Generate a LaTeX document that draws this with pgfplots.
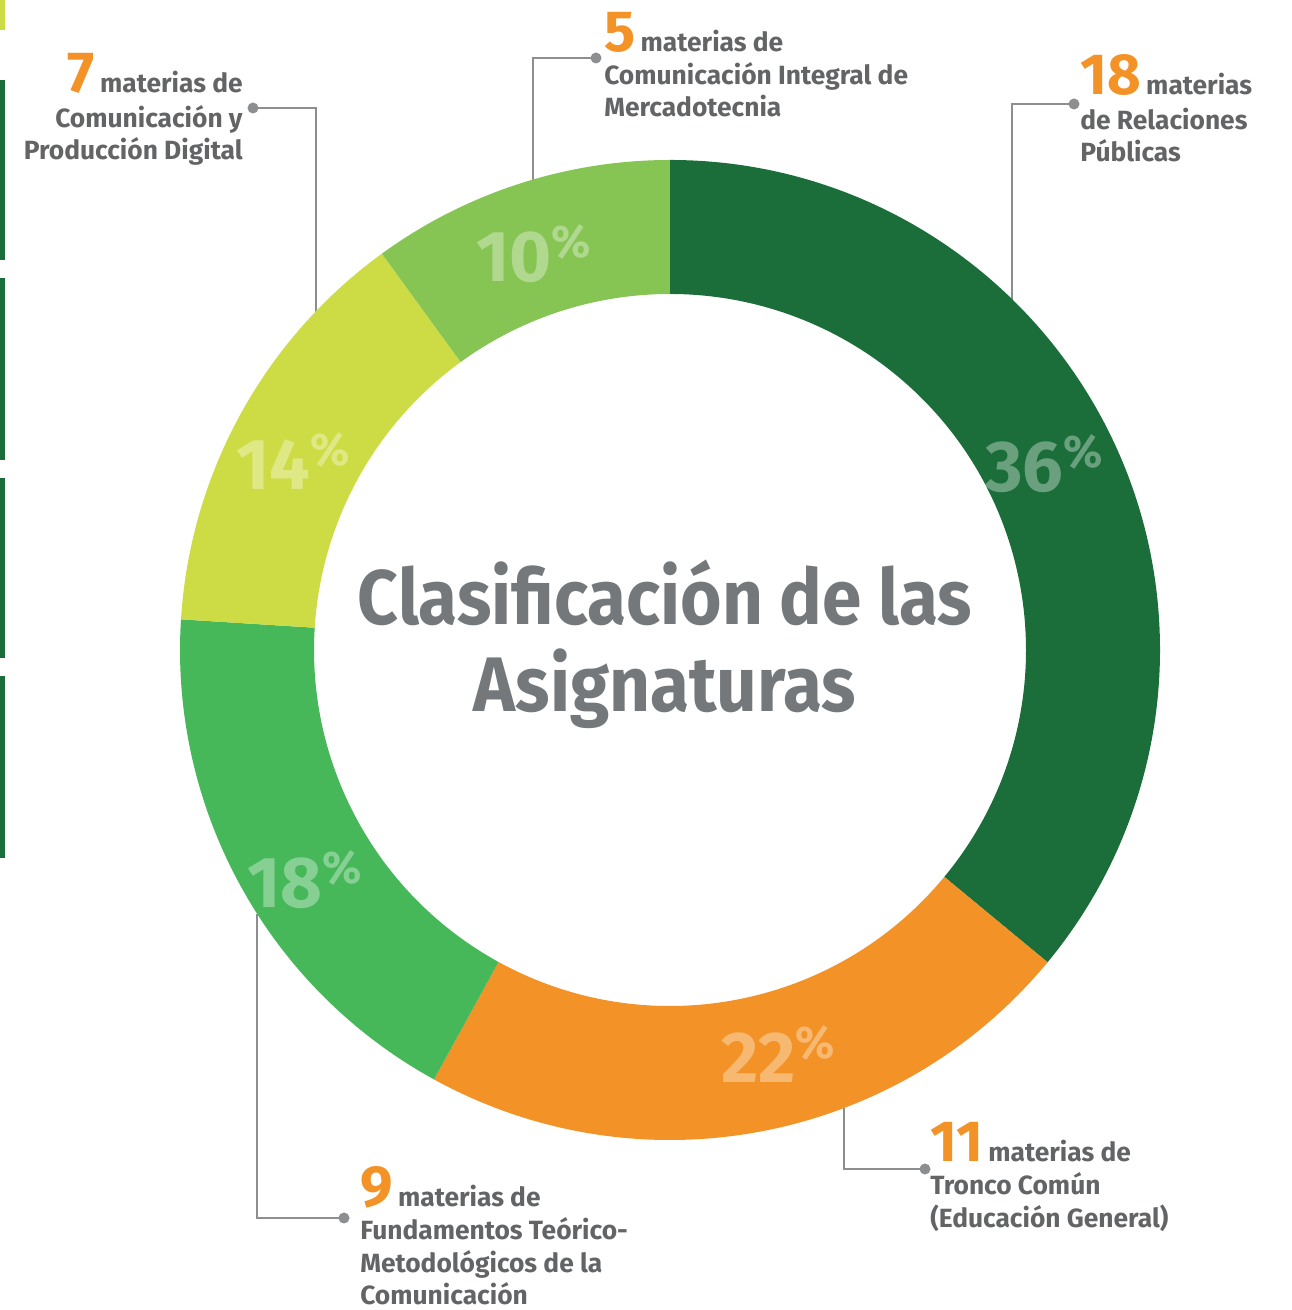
\documentclass[border=0pt]{standalone}
\usepackage{pgfplots}
\pgfplotsset{compat=1.18}
\usepackage{pgfplotstable}
\usepackage{fontspec}
\setmainfont{Fira Sans}
\newfontfamily\ttlfont{Fira Sans}[FakeStretch=0.92]
\definecolor{cDark}{HTML}{1B6E3A}
\definecolor{cOrange}{HTML}{F39226}
\definecolor{cGreen}{HTML}{47B85A}
\definecolor{cYellow}{HTML}{CDDC45}
\definecolor{cLight}{HTML}{86C454}
\definecolor{txt}{HTML}{636466}
\definecolor{ttl}{HTML}{75787B}
\definecolor{lead}{HTML}{8C8E90}

\pgfplotstableread{
value color
18 cDark
11 cOrange
9 cGreen
7 cYellow
5 cLight
}\datatable

\newcommand\lab{\fontsize{15}{18.7}\selectfont\bfseries\color{txt}}
\newcommand\bignum[1]{{\fontsize{33}{33}\selectfont\bfseries\color{cOrange}#1}\hspace{3pt}}
\newcommand\pct[1]{\fontsize{41}{41}\selectfont\bfseries #1\raisebox{14pt}{\fontsize{26}{26}\selectfont\%}}

\begin{document}
\begin{tikzpicture}
\begin{axis}[x=0.2mm,y=0.2mm,xmin=0,xmax=1291,ymin=0,ymax=1310,
  scale only axis,hide axis,clip=false]
\path (axis cs:0,0) rectangle (axis cs:1291,1310);
% left page-edge bars
\fill[cYellow] (axis cs:0,1280) rectangle (axis cs:5,1310);
\fill[cDark] (axis cs:0,1050) rectangle (axis cs:5,1230);
\fill[cDark] (axis cs:0,850) rectangle (axis cs:5,1032);
\fill[cDark] (axis cs:0,652) rectangle (axis cs:5,832);
\fill[cDark] (axis cs:0,452) rectangle (axis cs:5,634);
% leader lines
\begin{scope}[lead,line width=0.55mm]
\draw (axis cs:1012,1010) -- (axis cs:1012,1206) -- (axis cs:1074,1206);
\fill (axis cs:1074,1206) circle[radius=1.1mm];
\draw (axis cs:533,1128) -- (axis cs:533,1252) -- (axis cs:596,1252);
\fill (axis cs:596,1252) circle[radius=1.1mm];
\draw (axis cs:316,998) -- (axis cs:316,1202) -- (axis cs:253,1202);
\fill (axis cs:253,1202) circle[radius=1.1mm];
\draw (axis cs:844,202) -- (axis cs:844,141) -- (axis cs:925,141);
\fill (axis cs:925,141) circle[radius=1.1mm];
\draw (axis cs:257,396) -- (axis cs:257,92) -- (axis cs:344,92);
\fill (axis cs:344,92) circle[radius=1.1mm];
\end{scope}
% donut
\pgfplotstablegetrowsof{\datatable}
\pgfmathtruncatemacro\nrows{\pgfplotsretval-1}
\def\s{90}
\pgfplotsforeachungrouped \i in {0,...,\nrows}{%
  \pgfplotstablegetelem{\i}{value}\of\datatable \let\v\pgfplotsretval
  \pgfplotstablegetelem{\i}{color}\of\datatable \let\c\pgfplotsretval
  \pgfmathsetmacro\e{\s-\v/50*360}%
  \edef\temp{\noexpand\fill[\c] (axis cs:670,660) ++(\s:98mm) arc[start angle=\s,end angle=\e,radius=98mm] -- ++(\e:-26.8mm) arc[start angle=\e,end angle=\s,radius=71.2mm] -- cycle;}%
  \temp
  \global\let\s\e
}
% percentage labels
\begin{scope}[text=white,text opacity=0.35,inner sep=0pt]
\node[anchor=base west] at (axis cs:985,818) {\pct{36}};
\node[anchor=base west] at (axis cs:721,227) {\pct{22}};
\node[anchor=base west] at (axis cs:247,402) {\pct{18}};
\node[anchor=base west] at (axis cs:236,820) {\pct{14}};
\node[anchor=base west] at (axis cs:476,1028) {\pct{10}};
\end{scope}
% title
\begin{scope}[text=ttl,inner sep=0pt]
\node[anchor=base] at (axis cs:665,685) {\fontsize{44}{44}\selectfont\ttlfont\bfseries Clasificación de las};
\node[anchor=base] at (axis cs:665,598) {\fontsize{44}{44}\selectfont\ttlfont\bfseries Asignaturas};
\end{scope}
% category labels
\begin{scope}[inner sep=0pt]
\node[anchor=base west] at (axis cs:1080,1215) {\bignum{18}\lab materias};
\node[anchor=base west] at (axis cs:1080,1180) {\lab de Relaciones};
\node[anchor=base west] at (axis cs:1080,1148) {\lab Públicas};
\node[anchor=base west] at (axis cs:604,1258) {\bignum{5}\lab materias de};
\node[anchor=base west] at (axis cs:604,1225) {\lab Comunicación Integral de};
\node[anchor=base west] at (axis cs:604,1193) {\lab Mercadotecnia};
\node[anchor=base east] at (axis cs:243,1217) {\bignum{7}\lab materias de};
\node[anchor=base east] at (axis cs:243,1182) {\lab Comunicación y};
\node[anchor=base east] at (axis cs:243,1150) {\lab Producción Digital};
\node[anchor=base west] at (axis cs:930,148) {\bignum{11}\lab materias de};
\node[anchor=base west] at (axis cs:930,115) {\lab Tronco Común};
\node[anchor=base west] at (axis cs:930,82) {\lab (Educación General)};
\node[anchor=base west] at (axis cs:360,103) {\bignum{9}\lab materias de};
\node[anchor=base west] at (axis cs:360,70) {\lab Fundamentos Teórico-};
\node[anchor=base west] at (axis cs:360,38) {\lab Metodológicos de la};
\node[anchor=base west] at (axis cs:360,5) {\lab Comunicación};
\end{scope}
\end{axis}
\end{tikzpicture}
\end{document}
